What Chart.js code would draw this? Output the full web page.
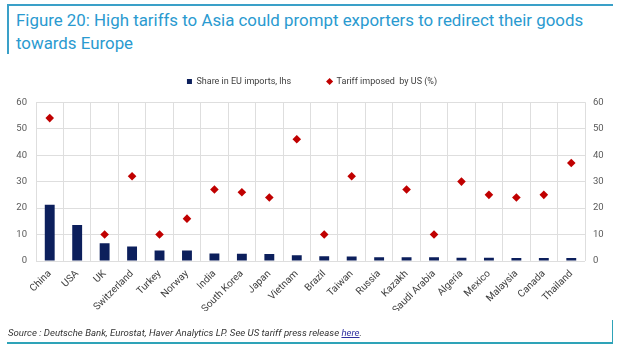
<!DOCTYPE html>
<html>
<head>
<meta charset="utf-8">
<script src="https://cdn.jsdelivr.net/npm/chart.js@4/dist/chart.umd.min.js"></script>
<style>
  html, body { margin: 0; padding: 0; background: #fff; }
  body { width: 624px; height: 355px; position: relative; overflow: hidden; font-family: Roboto, "Liberation Sans", sans-serif; }
  #title { position: absolute; left: 16px; top: 9px; color: #2a9ad0; font-size: 18px; line-height: 23px; white-space: nowrap; }
  #source { position: absolute; left: 8px; top: 327px; color: #333; font-style: italic; font-size: 8.6px; white-space: nowrap; }
  #source a { color: #3030a0; text-decoration: underline; }
  .ln { position: absolute; background: #3aa0c8; }
  #wrap { position: absolute; left: 0; top: 0; width: 624px; height: 355px; }
</style>
</head>
<body>
<div class="ln" style="left:7px; top:4px; width:606px; height:1.5px;"></div>
<div class="ln" style="left:7px; top:4px; width:1.5px; height:50px;"></div>
<div class="ln" style="left:7px; top:342px; width:606px; height:1.5px; background:#2ea3b8;"></div>
<div class="ln" style="left:611.5px; top:320px; width:1.5px; height:23.5px; background:#2ea3b8;"></div>
<div id="title"><span id="t1">Figure 20: High tariffs to Asia could prompt exporters to redirect their goods</span><br>towards Europe</div>
<div id="wrap"><canvas id="c" width="624" height="355"></canvas></div>
<div id="source">Source : Deutsche Bank, Eurostat, Haver Analytics LP. See US tariff press release <a>here</a>.</div>
<script>
const categories = ['China','USA','UK','Switzerland','Turkey','Norway','India','South Korea','Japan','Vietnam','Brazil','Taiwan','Russia','Kazakh','Saudi Arabia','Algeria','Mexico','Malaysia','Canada','Thailand'];
const shareEU = [21.3, 13.6, 6.7, 5.5, 4.0, 4.0, 2.8, 2.7, 2.6, 2.2, 1.8, 1.7, 1.4, 1.4, 1.4, 1.2, 1.2, 1.1, 1.1, 1.1];
const tariffUS = [54, null, 10, 32, 10, 16, 27, 26, 24, 46, 10, 32, null, 27, 10, 30, 25, 24, 25, 37];
const seriesNames = ['Share in EU imports, lhs', 'Tariff imposed  by US (%)'];
const axisMin = 0, axisMax = 60, axisStep = 10;

// fit title width
(function(){
  const t1 = document.getElementById('t1');
  const w = t1.getBoundingClientRect().width;
  const target = 567;
  const fs = 18 * target / w;
  document.getElementById('title').style.fontSize = fs.toFixed(2) + 'px';
  const s = document.getElementById('source');
  const sw = s.getBoundingClientRect().width;
  s.style.fontSize = (8.6 * 354 / sw).toFixed(2) + 'px';
})();

const FONT = 'Roboto, "Liberation Sans", sans-serif';

new Chart(document.getElementById('c'), {
  type: 'bar',
  data: {
    labels: categories,
    datasets: [
      {
        type: 'line',
        label: seriesNames[1],
        data: tariffUS,
        yAxisID: 'y2',
        showLine: false,
        pointStyle: 'rectRot',
        pointRadius: 4.3,
        pointHoverRadius: 4.3,
        backgroundColor: '#c00000',
        borderColor: '#c00000',
        borderWidth: 0,
        order: 0
      },
      {
        type: 'bar',
        label: seriesNames[0],
        data: shareEU,
        yAxisID: 'y',
        backgroundColor: '#0c1f5c',
        borderWidth: 0,
        pointStyle: 'rect',
        categoryPercentage: 1,
        barPercentage: 0.36,
        order: 1
      }
    ]
  },
  options: {
    responsive: false,
    animation: false,
    events: [],
    layout: { padding: { top: 41, left: 0, right: 0, bottom: 44 } },
    plugins: {
      tooltip: { enabled: false },
      legend: {
        display: true,
        position: 'top',
        reverse: true,
        labels: {
          usePointStyle: true,
          boxWidth: 5,
          boxHeight: 5,
          padding: 36,
          color: '#404040',
          font: { family: FONT, size: 9 }
        }
      },
      subtitle: {
        display: true,
        text: '',
        position: 'top',
        weight: 500,
        font: { size: 1 },
        padding: { top: 0, bottom: 5 }
      }
    },
    scales: {
      x: {
        grid: { color: '#dedede', drawTicks: false, offset: true },
        border: { display: false },
        ticks: {
          color: '#404040',
          font: { family: FONT, size: 10 },
          minRotation: 45,
          maxRotation: 45,
          padding: 7,
          autoSkip: false
        },
        afterFit: (s) => { s.height = 50; }
      },
      y: {
        position: 'left',
        min: axisMin, max: axisMax,
        grid: { color: '#dedede', drawTicks: false },
        border: { display: false },
        ticks: { stepSize: axisStep, color: '#595959', font: { family: FONT, size: 9.5 }, padding: 9 },
        afterFit: (s) => { s.width = 36; }
      },
      y2: {
        position: 'right',
        min: axisMin, max: axisMax,
        grid: { display: false, drawTicks: false },
        border: { display: false },
        ticks: { stepSize: axisStep, color: '#595959', font: { family: FONT, size: 9.5 }, padding: 8 },
        afterFit: (s) => { s.width = 39; }
      }
    }
  }
});
</script>
</body>
</html>
